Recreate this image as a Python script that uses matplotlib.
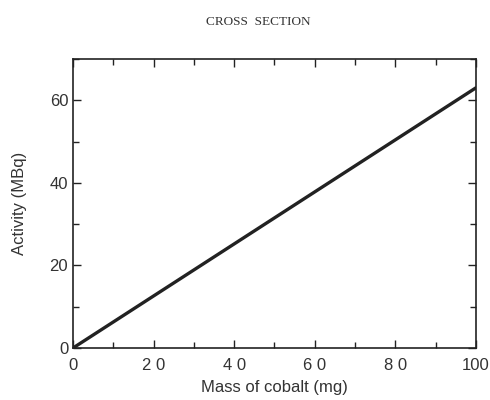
import matplotlib.pyplot as plt
from matplotlib.ticker import MultipleLocator

# Activity of a cobalt sample against its mass
mass_mg = [0, 100]
activity_mbq = [0, 63]
x_ticks = [0, 20, 40, 60, 80, 100]
x_tick_labels = ['0', '2 0', '4 0', '6 0', '8 0', '100']
y_ticks = [0, 20, 40, 60]

plt.rcParams['font.family'] = ['Liberation Sans', 'DejaVu Sans']

fig = plt.figure(figsize=(4.9, 4.0), dpi=100)
ax = fig.add_axes([0.149, 0.13, 0.822, 0.7225])

ax.plot(mass_mg, activity_mbq, color='#222222', linewidth=2.4, solid_capstyle='round')

ax.set_xlim(0, 100)
ax.set_ylim(0, 70)
ax.set_xticks(x_ticks)
ax.set_xticklabels(x_tick_labels)
ax.set_yticks(y_ticks)
ax.xaxis.set_minor_locator(MultipleLocator(10))
ax.yaxis.set_minor_locator(MultipleLocator(10))
ax.tick_params(which='both', direction='in', top=True, right=True, width=1.0, color='#222222')
ax.tick_params(which='major', length=6, labelsize=12, labelcolor='#333333')
ax.tick_params(which='minor', length=4)
ax.tick_params(axis='x', which='major', pad=7)
for s in ax.spines.values():
    s.set_linewidth(1.2)
    s.set_color('#222222')

ax.set_xlabel('Mass of cobalt (mg)', fontsize=12, color='#333333', labelpad=5)
ax.set_ylabel('Activity (MBq)', fontsize=12, color='#333333', labelpad=16)

fig.text(0.527, 0.945, 'CROSS  SECTION', ha='center', va='center', fontsize=9.5,
         family='Liberation Serif', color='#333333')

fig.savefig('out.png', dpi=100)
